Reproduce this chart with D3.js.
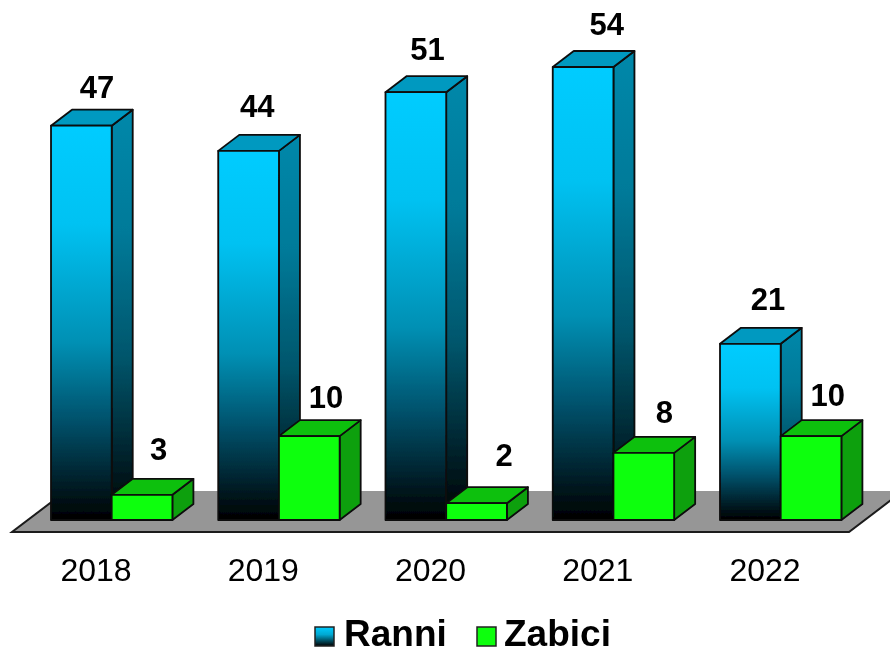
<!DOCTYPE html>
<html><head><meta charset="utf-8">
<script src="https://cdnjs.cloudflare.com/ajax/libs/d3/7.8.5/d3.min.js"></script>
<style>html,body{margin:0;padding:0;background:#fff;overflow:hidden}svg{display:block}text{font-family:"Liberation Sans",Arial,sans-serif;fill:#000}</style>
</head><body><svg id="c" width="890" height="649"></svg>
<script>
const years = ["2018","2019","2020","2021","2022"];
const ranni = [47,44,51,54,21];
const zabici = [3,10,2,8,10];
const seriesNames = ["Ranni","Zabici"];
// hand-placed data label nudges seen in the reference (px)
const ranniNudge = [[0,-1],[-7,-7],[-4,-5],[8,-5],[2,-7]];
const zabiciNudge = [[0,0],[0,-1],[11,-2],[4,-3],[0,-3]];

const W=890,H=649, base=520, depthX=21, depthY=16;
const svg=d3.select("#c");
const x=d3.scaleBand().domain(years).range([51-44.4,51-44.4+167.25*5]).paddingInner(0).paddingOuter(0);
const sx=d3.scaleBand().domain(seriesNames).range([0,121.4]);
const y=d3.scaleLinear().domain([0,54]).range([base,base-453]);
const barX=(yr,s)=>x(yr)+44.4+sx(s);

const defs=svg.append("defs");
function grad(id,stops){const g=defs.append("linearGradient").attr("id",id).attr("x1",0).attr("y1",0).attr("x2",0).attr("y2",1);
 stops.forEach(([o,c])=>g.append("stop").attr("offset",o).attr("stop-color",c));}
grad("blueFront",[[0,"#00ccff"],[0.25,"#00c2f2"],[0.55,"#0090b4"],[0.75,"#00506a"],[1,"#000000"]]);
grad("blueSide",[[0,"#0088aa"],[0.3,"#007a99"],[0.6,"#00566c"],[0.8,"#002c38"],[1,"#000000"]]);
grad("legendBlue",[[0,"#00ccff"],[0.4,"#00a8d2"],[1,"#000000"]]);
const f=defs.append("filter").attr("id","soft").attr("x","-5%").attr("y","-5%").attr("width","110%").attr("height","110%");
f.append("feGaussianBlur").attr("stdDeviation",0.45);

const root=svg.append("g").attr("filter","url(#soft)");
const line=d3.line();
// floor
const fy0=532, fy1=491, fl=12, fr=849;
root.append("path").attr("d",line([[fl,fy0],[fl+54,fy1],[fr+54,fy1],[fr,fy0]])+"Z")
 .attr("fill","#969696").attr("stroke","none");
root.append("path").attr("d",line([[fl+54,fy1],[fl,fy0],[fr,fy0],[fr+54,fy1]]))
 .attr("fill","none").attr("stroke","#1a1a1a").attr("stroke-width",2);

function bar(g,xx,w,v,front,side,top){
 const t=y(v),b=y(0);
 const st={stroke:"#0a0a0a","stroke-width":1.8,"stroke-linejoin":"round"};
 const add=(pts,fill)=>{const p=g.append("path").attr("d",line(pts)+"Z").attr("fill",fill);Object.entries(st).forEach(([k,val])=>p.attr(k,val));};
 add([[xx+w,t],[xx+w+depthX,t-depthY],[xx+w+depthX,b-depthY],[xx+w,b]],side);
 add([[xx,t],[xx+depthX,t-depthY],[xx+w+depthX,t-depthY],[xx+w,t]],top);
 add([[xx,t],[xx+w,t],[xx+w,b],[xx,b]],front);
}
const fmtLabel=(g,cx,v,low,n)=>{
 g.append("text").attr("x",cx+n[0]).attr("y",y(v)-depthY-(low?19:11)+n[1]).attr("text-anchor","middle")
  .attr("font-size",31).attr("font-weight","bold").text(v);
};
years.forEach((yr,i)=>{
 const g=root.append("g");
 const w=sx.bandwidth();
 bar(g,barX(yr,"Ranni"),w,ranni[i],"url(#blueFront)","url(#blueSide)","#0099c0");
 bar(g,barX(yr,"Zabici"),w,zabici[i],"#0aff0a","#0aa00a","#0cc00c");
});
years.forEach((yr,i)=>{
 fmtLabel(root,barX(yr,"Ranni")+46,ranni[i],false,ranniNudge[i]);
 fmtLabel(root,barX(yr,"Zabici")+47,zabici[i],zabici[i]<5,zabiciNudge[i]);
 root.append("text").attr("x",barX(yr,"Ranni")+45).attr("y",581).attr("text-anchor","middle")
  .attr("font-size",32).text(yr);
});
// legend
const leg=[{n:"Ranni",sw:315,tx:344,fill:"url(#legendBlue)"},{n:"Zabici",sw:477,tx:504,fill:"#0aff0a"}];
leg.forEach(d=>{
 root.append("rect").attr("x",d.sw).attr("y",627).attr("width",19).attr("height",19).attr("fill",d.fill).attr("stroke","#222").attr("stroke-width",1.5);
 root.append("text").attr("x",d.tx).attr("y",646).attr("font-size",37).attr("font-weight","bold").text(d.n);
});
</script></body></html>
